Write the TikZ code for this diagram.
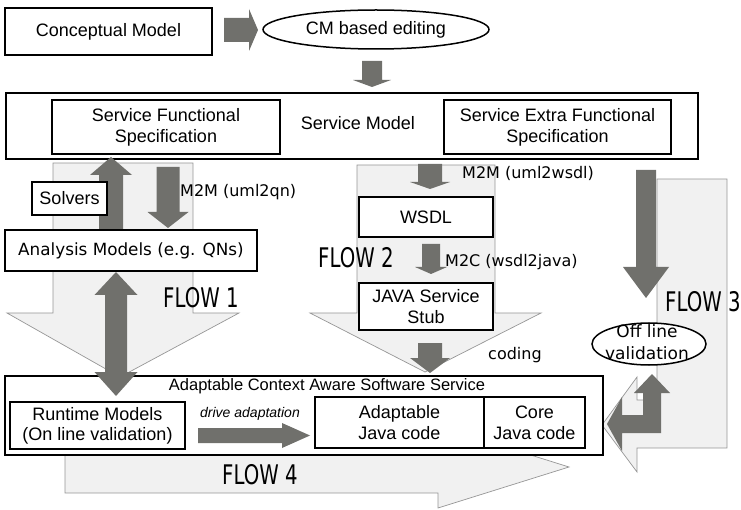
\documentclass[tikz,border=0pt]{standalone}
\usepackage{fontspec}
\usepackage{graphicx}
\setmainfont{Liberation Sans}
\newfontfamily\dvfont{DejaVu Sans}
\usetikzlibrary{shapes.geometric}
\definecolor{dk}{RGB}{112,112,108}
\definecolor{lt}{RGB}{241,241,241}
\definecolor{ltline}{RGB}{150,150,150}
% vertical block arrow: x, y start, y head base, y tip, half shaft, half head
\newcommand\vblk[6]{\fill[dk] ({#1-#5},#2) -- ({#1+#5},#2) -- ({#1+#5},#3) -- ({#1+#6},#3) -- (#1,#4) -- ({#1-#6},#3) -- ({#1-#5},#3) -- cycle;}
% horizontal block arrow: y, x start, x head base, x tip, half shaft, half head
\newcommand\hblk[6]{\fill[dk] (#2,{#1-#5}) -- (#2,{#1+#5}) -- (#3,{#1+#5}) -- (#3,{#1+#6}) -- (#4,#1) -- (#3,{#1-#6}) -- (#3,{#1-#5}) -- cycle;}
\begin{document}
\begin{tikzpicture}[x=1pt,y=-1pt,
  box/.style={draw,line width=1.5pt,fill=white,inner sep=0pt,align=center,font=\fontsize{18}{21}\selectfont},
  oval/.style={ellipse,draw,line width=1.5pt,fill=white,inner sep=0pt,align=center,font=\fontsize{18}{21}\selectfont},
  lbl/.style={font=\dvfont\fontsize{16}{19}\selectfont,inner sep=0pt,anchor=west},
  flow/.style={font=\dvfont\fontsize{27}{30}\selectfont,inner sep=0pt,anchor=west},
  light/.style={fill=lt,draw=ltline,line width=0.7pt}]
\useasboundingbox (0,0) rectangle (741,510);
% light flow arrows
\draw[light] (53,163) -- (193,163) -- (193,313) -- (239,313) -- (120,377) -- (7,313) -- (53,313) -- cycle;
\draw[light] (357,165) -- (495,165) -- (495,313) -- (541,313) -- (425,372) -- (310,313) -- (357,313) -- cycle;
\draw[light] (657,179) -- (727,179) -- (727,448) -- (637,448) -- (637,472) -- (602,425) -- (637,377) -- (637,400) -- (657,400) -- cycle;
\draw[light] (65,441) -- (438,441) -- (438,426) -- (569,467) -- (438,508) -- (438,493) -- (65,493) -- cycle;
% boxes
\node[box,minimum width=207pt,minimum height=47pt] (cm) at (108.5,31.5) {Conceptual Model};
\node[oval,minimum width=226pt,minimum height=39pt] (edit) at (376,29.5) {CM based editing};
\node[box,minimum width=692pt,minimum height=66pt] (sm) at (352,126) {};
\node[font=\fontsize{18}{21}\selectfont,inner sep=0pt] (smlabel) at (358,123) {Service Model};
\node[box,minimum width=228pt,minimum height=54pt] (sfs) at (166,127) {Service Functional\\Specification};
\node[box,minimum width=227pt,minimum height=54pt] (sefs) at (557.5,127) {Service Extra Functional\\Specification};
\node[box,minimum width=252pt,minimum height=41pt,font=\dvfont\fontsize{16.8}{20}\selectfont] (analysis) at (131,250.5) {Analysis Models (e.g. QNs)};
\node[box,minimum width=134pt,minimum height=40pt] (wsdl) at (426,217) {WSDL};
\node[box,minimum width=134pt,minimum height=47pt] (stub) at (426,306.5) {JAVA Service\\Stub};
\node[oval,minimum width=114pt,minimum height=42pt] (offline) at (649,344) {};
\node[font=\dvfont\fontsize{17}{22}\selectfont,align=center,inner sep=0pt] (offlinetext) at (647,342) {Off line\\validation};
\node[box,minimum width=598pt,minimum height=79pt,line width=1.8pt] (acass) at (304,415.5) {};
\node[font=\fontsize{16.5}{19}\selectfont,inner sep=0pt] (acasslabel) at (327,386) {Adaptable Context Aware Software Service};
\node[box,minimum width=175pt,minimum height=47pt,font=\fontsize{18}{20}\selectfont] (runtime) at (97.5,425.5) {Runtime Models\\(On line validation)};
\node[box,minimum width=169pt,minimum height=51pt] (adapt) at (399.5,422.5) {Adaptable\\Java code};
\node[box,minimum width=101pt,minimum height=51pt] (core) at (534.5,422.5) {Core\\Java code};
% dark block arrows
\hblk{30}{224}{249}{258}{12}{21}
\vblk{372}{61}{80}{87}{10}{19}
\vblk{111}{229}{175}{157}{12}{21}
\vblk{168}{167}{212}{228}{11.5}{20.5}
\fill[dk] (116,272) -- (137.5,295) -- (127,295) -- (127,372) -- (137.5,372) -- (116,396) -- (94.5,372) -- (105,372) -- (105,295) -- (94.5,295) -- cycle;
\vblk{430}{164}{182}{189}{12}{20}
\vblk{431}{244}{267}{274}{9}{16}
\vblk{430}{343}{358}{373}{12}{20}
\vblk{646}{170}{267}{298}{10}{23}
\fill[dk] (607,424) -- (622,397) -- (622,415) -- (643,415) -- (643,393) -- (634,393) -- (652,374) -- (670,393) -- (661,393) -- (661,433) -- (622,433) -- (622,451) -- cycle;
\hblk{435.5}{198}{282}{310}{7.5}{12.5}
% solvers box on top of the arrow
\node[box,minimum width=75pt,minimum height=33pt] (solvers) at (69.5,198.5) {Solvers};
% labels
\node[lbl] (l1) at (180,192) {M2M (uml2qn)};
\node[lbl] (l2) at (462,173) {M2M (uml2wsdl)};
\node[lbl] (l3) at (445,262) {M2C (wsdl2java)};
\node[lbl] (l4) at (488,355) {coding};
\node[font=\itshape\fontsize{14}{16}\selectfont,inner sep=0pt] (drive) at (250,414) {drive adaptation};
\node[flow] (f1) at (163,298) {\scalebox{0.73}[1]{FLOW 1}};
\node[flow] (f2) at (318,258) {\scalebox{0.73}[1]{FLOW 2}};
\node[flow] (f3) at (665,302) {\scalebox{0.73}[1]{FLOW 3}};
\node[flow] (f4) at (222,475) {\scalebox{0.73}[1]{FLOW 4}};
\end{tikzpicture}
\end{document}
